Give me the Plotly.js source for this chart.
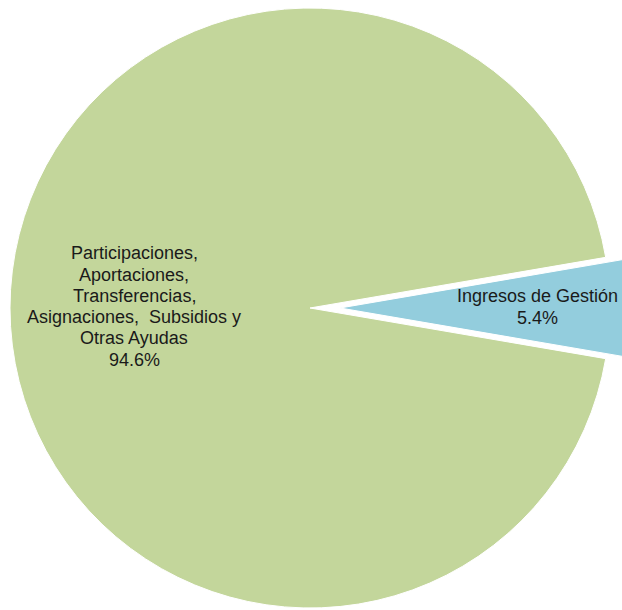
<!DOCTYPE html>
<html>
<head>
<meta charset="utf-8">
<script src="https://cdn.plot.ly/plotly-3.0.1.min.js"></script>
<style>
  html, body { margin: 0; padding: 0; overflow: hidden; background: #ffffff; width: 622px; height: 610px; }
  #chart { position: absolute; left: -20px; top: -22px; width: 660px; height: 660px; }
</style>
</head>
<body>
<div id="chart"></div>
<script>
// Data
const categories = [
  "Ingresos de Gestión",
  "Participaciones, Aportaciones, Transferencias, Asignaciones, Subsidios y Otras Ayudas"
];
const labelText = [
  "Ingresos de Gestión",
  "Participaciones,<br>Aportaciones,<br>Transferencias,<br>Asignaciones,  Subsidios y<br>Otras Ayudas"
];
const values = [5.4, 94.6];
const sliceColors = ["#93CDDD", "#C3D69B"];
const pulls = [0.1, 0];

// Layout helpers (label placement, in page pixels)
const W = 660, H = 660, OFFX = -20, OFFY = -22;
const labelCenters = [[537, 307], [134, 306.5]];
const lineStep = 21.3;
const toPaperX = px => (px - OFFX) / W;
const toPaperY = py => 1 - (py - OFFY) / H;

const total = values.reduce((a, b) => a + b, 0);
const annotations = [];
labelText.forEach((lbl, i) => {
  const lines = lbl.split("<br>").concat([(values[i] / total * 100).toFixed(1) + "%"]);
  const n = lines.length;
  lines.forEach((ln, k) => {
    const py = labelCenters[i][1] + (k - (n - 1) / 2) * lineStep;
    annotations.push({
      text: ln,
      xref: "paper", yref: "paper",
      x: toPaperX(labelCenters[i][0]),
      y: toPaperY(py),
      xanchor: "center", yanchor: "middle",
      showarrow: false,
      font: { family: "Liberation Sans, Arial, sans-serif", size: 18, color: "#1a1a1a" }
    });
  });
});

const trace = {
  type: "pie",
  labels: categories,
  values: values,
  textinfo: "none",
  sort: false,
  direction: "clockwise",
  rotation: 90 - (values[0] / total) * 180,
  pull: pulls,
  marker: { colors: sliceColors, line: { color: "#ffffff", width: 1 } },
  hoverinfo: "none",
  showlegend: false
};

const layout = {
  width: W,
  height: H,
  margin: { l: 0, r: 0, t: 0, b: 0 },
  paper_bgcolor: "#ffffff",
  plot_bgcolor: "#ffffff",
  showlegend: false,
  annotations: annotations
};

Plotly.newPlot("chart", [trace], layout, { displayModeBar: false, staticPlot: true });
</script>
</body>
</html>
